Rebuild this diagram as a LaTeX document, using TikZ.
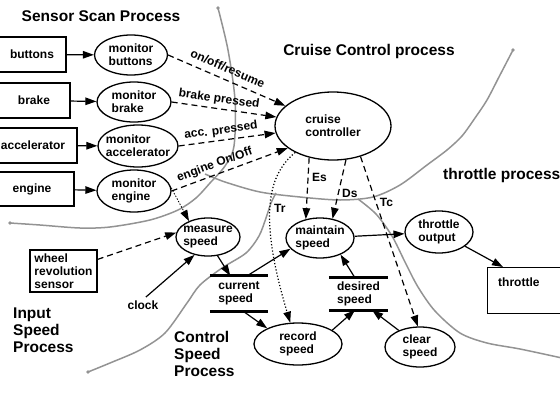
\documentclass[tikz,border=0pt]{standalone}
\usepackage{fontspec}
\setmainfont{Liberation Sans}
\usetikzlibrary{shapes.geometric,arrows.meta,calc}

\begin{document}
\begin{tikzpicture}[x=1pt,y=-1pt,
  font=\fontsize{12}{13}\selectfont\bfseries,
  >={Triangle[length=11pt,width=7.5pt]},
  proc/.style={ellipse,draw,line width=1.3pt,inner sep=-6pt,align=left},
  term/.style={rectangle,draw,line width=1.3pt,align=left},
  store/.style={rectangle,inner sep=0pt,align=left},
  flow/.style={->,line width=1.2pt},
  ctrl/.style={->,line width=1.2pt,dash pattern=on 6pt off 4pt},
  bound/.style={gray!85,line width=1.5pt},
  title/.style={font=\fontsize{15.5}{17}\selectfont\bfseries,align=left,inner sep=0pt}]

  \useasboundingbox (0,0) rectangle (560,402);

  % process boundaries
  \draw[bound] plot[smooth] coordinates {(218,8) (228,50) (235,100) (234,146)
    (225,166) (210,183) (196,198) (178,210) (150,220) (110,227) (80,228) (40,225) (10,223)};
  \draw[bound] plot[smooth] coordinates {(205,174) (225,182) (260,192) (300,197)
    (340,200) (373,197) (400,185) (427,165) (447,150) (462,136) (475,118) (487,100) (500,75) (513,50)};
  \draw[bound] plot[smooth] coordinates {(88,372) (110,363) (140,350) (165,333)
    (187,303) (200,285) (222,268) (246,253) (259,236) (266,218) (271,203) (276,193)};
  \draw[bound] plot[smooth] coordinates {(358,199) (376,214) (392,236) (405,262)
    (418,287) (435,311) (460,333) (487,343) (520,349) (562,358)};
  \foreach \p in {(218,8),(10,223),(513,50),(88,372)}
    \fill[gray!85] \p circle (1.8pt);

  \node[title] (ssp) at (101,16) {Sensor Scan Process};
  \node[title] (ccp) at (369,51) {Cruise Control process};
  \node[title, anchor=west] (tpp) at (443,175) {throttle process};
  \node[title, anchor=west] (isp) at (13,330) {Input\\Speed\\Process};
  \node[title, anchor=west] (csp) at (174,354) {Control\\Speed\\Process};

  \node[term, minimum width=68pt, minimum height=35pt] (btn) at (32,54.5) {buttons};
  \node[term, minimum width=72pt, minimum height=35pt] (brk) at (34,100.5) {brake};
  \node[term, minimum width=88pt, minimum height=35pt] (acc) at (33,145.5) {accelerator};
  \node[term, minimum width=84pt, minimum height=34pt] (eng) at (32,189) {engine};
  \node[term, minimum width=67pt, minimum height=42pt, inner sep=1pt] (whl) at (63.5,271)
    {wheel\\revolution\\sensor};
  \node[term, minimum width=90pt, minimum height=46pt, anchor=north west] (thr) at (487,267) {};
  \node[anchor=north west, inner sep=0pt] (thrtxt) at (498,278) {throttle};

  \node[proc, minimum width=73pt, minimum height=40pt] (mbut) at (131,55) {monitor\\buttons};
  \node[proc, minimum width=74pt, minimum height=40pt] (mbrk) at (134,102) {monitor\\brake};
  \node[proc, minimum width=80pt, minimum height=42pt] (macc) at (138,146) {monitor\\accelerator};
  \node[proc, minimum width=74pt, minimum height=42pt] (meng) at (134,191) {monitor\\engine};
  \node[proc, minimum width=116pt, minimum height=68pt] (cc) at (333,126) {cruise\\controller};
  \node[proc, minimum width=64pt, minimum height=38pt] (msp) at (208,237) {measure\\speed};
  \node[proc, minimum width=68pt, minimum height=40pt] (mnt) at (320,238) {maintain\\speed};
  \node[proc, minimum width=68pt, minimum height=42pt] (tout) at (439,232) {throttle\\output};
  \node[proc, minimum width=88pt, minimum height=42pt] (rec) at (298,344) {record\\speed};
  \node[proc, minimum width=70pt, minimum height=40pt] (clr) at (420,347) {clear\\speed};

  \node[store, minimum width=58pt, minimum height=35pt] (cur) at (239,293.5) {current\\speed};
  \node[store, minimum width=59pt, minimum height=32pt] (des) at (358.5,294) {desired\\speed};
  \draw[line width=2.8pt] (cur.north west) -- (cur.north east) (cur.south west) -- (cur.south east);
  \draw[line width=2.8pt] (des.north west) -- (des.north east) (des.south west) -- (des.south east);

  \node (clk) at (143,305) {clock};

  \draw[flow] (btn) -- (mbut);
  \draw[flow] (brk) -- (mbrk);
  \draw[flow] (acc) -- (macc);
  \draw[flow] (eng) -- (meng);

  \draw[ctrl] (mbut.east) -- node[sloped, above, pos=0.47, yshift=3pt]{on/off/resume} (cc.157);
  \draw[ctrl] (mbrk.east) -- node[sloped, above, pos=0.44]{brake pressed} (cc.171);
  \draw[ctrl] (macc.east) -- node[sloped, above, pos=0.45]{acc. pressed} (cc.187);
  \draw[ctrl] (meng.east) -- node[sloped, above, pos=0.4]{engine On/Off} (cc.206);

  \draw[ctrl] (cc.233) -- node[right, pos=0.32]{Es} (mnt.127);
  \draw[ctrl] (cc.291) -- node[right, pos=0.57]{Ds} (mnt.57);
  \draw[ctrl] (cc.312) -- node[right, pos=0.27]{Tc} (clr.96);
  \draw[->, line width=1.2pt, dash pattern=on 1.2pt off 2pt] (cc.215)
    .. controls (268,175) and (258,215) .. node[right, pos=0.52]{Tr} (rec.110);

  \draw[ctrl] (whl) -- (msp.172);
  \draw[flow] (clk.70) -- (msp.233);
  \draw[->, line width=0.8pt, dash pattern=on 1.5pt off 1.5pt] (meng.5) -- (msp.140);

  \draw[flow] (msp.297) -- ($(cur.north west)!0.35!(cur.north east)$);
  \draw[flow] ($(cur.north west)!0.64!(cur.north east)$) -- (mnt.200);
  \draw[flow] ($(cur.south west)!0.57!(cur.south east)$) -- (rec.153);
  \draw[flow] ($(des.north west)!0.44!(des.north east)$) -- (mnt.321);
  \draw[flow] (rec.22) -- ($(des.south west)!0.44!(des.south east)$);
  \draw[flow] (clr.142) -- ($(des.south west)!0.73!(des.south east)$);
  \draw[flow] (mnt) -- (tout);
  \draw[flow] (tout) -- ($(thr.north west)+(16,0)$);

\end{tikzpicture}
\end{document}
